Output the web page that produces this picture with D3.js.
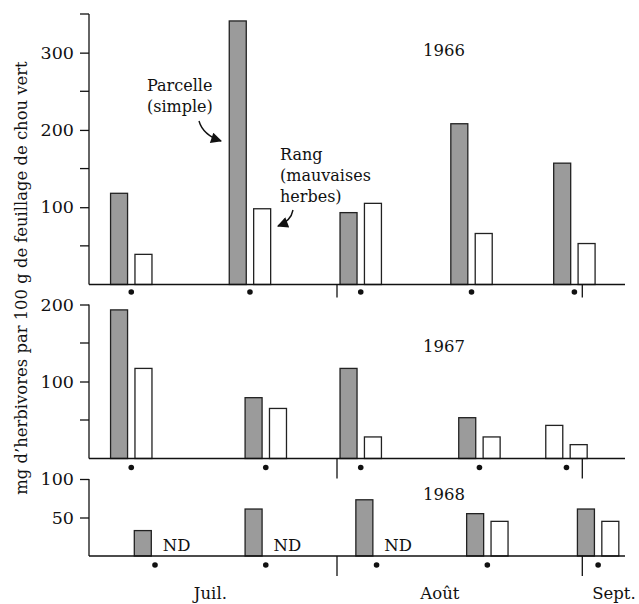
<!DOCTYPE html>
<html>
<head>
<meta charset="utf-8">
<script src="https://cdn.jsdelivr.net/npm/d3@7"></script>
<style>
  body { margin: 0; background: #fff; }
  svg text { font-family: "DejaVu Serif", serif; fill: #111; }
</style>
</head>
<body>
<svg width="639" height="604"></svg>
<script>
// sample dates (month-day) and values, mg per 100 g
var dates1966 = ["07-06", "07-21", "08-04", "08-18", "08-31"];
var parcelle1966 = [118, 341, 93, 208, 157];
var rang1966 = [39, 98, 105, 66, 53];

var dates1967 = ["07-06", "07-23", "08-04", "08-19", "08-30"];
var parcelle1967 = [193, 79, 117, 53, 43];
var rang1967 = [117, 65, 28, 28, 18];

var dates1968 = ["07-09", "07-23", "08-06", "08-20", "09-03"];
var parcelle1968 = [33, 61, 73, 55, 61];
var rang1968 = [null, null, null, 45, 45];   // null = ND

var monthDates = ["07-16", "08-14", "09-05"];
var monthNames = ["Juil.", "Août", "Sept."];
var monthBreaks = ["08-01", "09-01"];

var parse = d3.timeParse("%m-%d");

var svg = d3.select("svg");

var x = d3.scaleTime()
    .domain([parse("08-01"), parse("09-01")])
    .range([337, 582.3]);

var axLeft = 89, axRight = 625;
var barW = 17, half = 12.2;

var panels = [
  {year: "1966", dates: dates1966, p: parcelle1966, r: rang1966, base: 284.5, top: 14, max: 350,
   minor: [50, 150, 250, 350], major: [100, 200, 300], dotDy: 7.5, sepLen: 13, yearY: 56, openP: []},
  {year: "1967", dates: dates1967, p: parcelle1967, r: rang1967, base: 458.5, top: 304.5, max: 200,
   minor: [50, 150], major: [100, 200], dotDy: 9, sepLen: 20, yearY: 352, openP: [4]},
  {year: "1968", dates: dates1968, p: parcelle1968, r: rang1968, base: 556, top: 479, max: 100,
   minor: [], major: [50, 100], dotDy: 9, sepLen: 20, yearY: 500, openP: []}
];

panels.forEach(function(pn) {
  var y = d3.scaleLinear().domain([0, pn.max]).range([pn.base, pn.top]);
  var g = svg.append("g");

  // y axis: labelled ticks
  g.append("g")
      .attr("transform", "translate(" + axLeft + ",0)")
      .call(d3.axisLeft(y).tickValues(pn.major).tickSize(9).tickPadding(6).tickFormat(d3.format("d")))
      .call(function(a) {
        a.select(".domain").remove();
        a.selectAll("line").attr("stroke", "#111").attr("stroke-width", 1.3);
        a.selectAll("text").attr("font-size", 17.5).attr("font-family", "DejaVu Serif").attr("fill", "#111");
      });

  // unlabelled ticks
  g.selectAll(".minor").data(pn.minor).enter().append("line")
      .attr("x1", axLeft - 9).attr("x2", axLeft)
      .attr("y1", function(d) { return y(d); }).attr("y2", function(d) { return y(d); })
      .attr("stroke", "#111").attr("stroke-width", 1.3);

  g.append("line")
      .attr("x1", axLeft).attr("x2", axLeft)
      .attr("y1", y(pn.max)).attr("y2", pn.base)
      .attr("stroke", "#111").attr("stroke-width", 1.3);

  // bars
  var rows = pn.dates.map(function(d, i) {
    return {cx: x(parse(d)), p: pn.p[i], r: pn.r[i], open: pn.openP.indexOf(i) >= 0};
  });

  g.selectAll(".bp").data(rows).enter().append("rect")
      .attr("x", function(d) { return d.cx - half - barW / 2; })
      .attr("width", barW)
      .attr("y", function(d) { return y(d.p); })
      .attr("height", function(d) { return pn.base - y(d.p); })
      .attr("fill", function(d) { return d.open ? "#fff" : "#9b9b9b"; })
      .attr("stroke", "#222").attr("stroke-width", 1.3);

  g.selectAll(".br").data(rows.filter(function(d) { return d.r != null; })).enter().append("rect")
      .attr("x", function(d) { return d.cx + half - barW / 2; })
      .attr("width", barW)
      .attr("y", function(d) { return y(d.r); })
      .attr("height", function(d) { return pn.base - y(d.r); })
      .attr("fill", "#fff")
      .attr("stroke", "#222").attr("stroke-width", 1.3);

  g.selectAll(".nd").data(rows.filter(function(d) { return d.r == null; })).enter().append("text")
      .attr("x", function(d) { return d.cx + half - barW / 2 + 4; })
      .attr("y", pn.base - 5)
      .attr("font-size", 16.5)
      .text("ND");

  // baseline
  g.append("line")
      .attr("x1", axLeft).attr("x2", axRight)
      .attr("y1", pn.base).attr("y2", pn.base)
      .attr("stroke", "#111").attr("stroke-width", 1.3);

  // sampling dots
  g.selectAll(".dot").data(rows).enter().append("circle")
      .attr("cx", function(d) { return d.cx; })
      .attr("cy", pn.base + pn.dotDy)
      .attr("r", 2.8)
      .attr("fill", "#111");

  // month separators
  g.selectAll(".sep").data(monthBreaks).enter().append("line")
      .attr("x1", function(d) { return x(parse(d)); }).attr("x2", function(d) { return x(parse(d)); })
      .attr("y1", pn.base).attr("y2", pn.base + pn.sepLen)
      .attr("stroke", "#111").attr("stroke-width", 1.3);

  g.append("text")
      .attr("x", 444).attr("y", pn.yearY)
      .attr("text-anchor", "middle")
      .attr("font-size", 16.5)
      .text(pn.year);
});

// month names
svg.selectAll(".month").data(monthDates).enter().append("text")
    .attr("x", function(d) { return x(parse(d)); })
    .attr("y", 599)
    .attr("text-anchor", "middle")
    .attr("font-size", 16.5)
    .text(function(d, i) { return monthNames[i]; });

// y label
svg.append("text")
    .attr("transform", "translate(27,278) rotate(-90)")
    .attr("text-anchor", "middle")
    .attr("font-size", 16.4)
    .text("mg d’herbivores par 100 g de feuillage de chou vert");

// annotations
var defs = svg.append("defs");
defs.append("marker")
    .attr("id", "head")
    .attr("viewBox", "0 0 10 10")
    .attr("refX", 9).attr("refY", 5)
    .attr("markerUnits", "userSpaceOnUse")
    .attr("markerWidth", 13).attr("markerHeight", 11)
    .attr("orient", "auto")
  .append("path")
    .attr("d", "M0,0L10,5L0,10z")
    .attr("fill", "#111");

var note = svg.append("g").attr("font-size", 16);
note.append("text").attr("x", 147).attr("y", 91).text("Parcelle");
note.append("text").attr("x", 147).attr("y", 112).text("(simple)");
note.append("text").attr("x", 280).attr("y", 160).text("Rang");
note.append("text").attr("x", 280).attr("y", 181).text("(mauvaises");
note.append("text").attr("x", 280).attr("y", 202).text("herbes)");

svg.append("path")
    .attr("d", "M199,121Q203,135 221,141")
    .attr("fill", "none").attr("stroke", "#111").attr("stroke-width", 1.4)
    .attr("marker-end", "url(#head)");
svg.append("path")
    .attr("d", "M293,210Q291,221 278,226")
    .attr("fill", "none").attr("stroke", "#111").attr("stroke-width", 1.4)
    .attr("marker-end", "url(#head)");
</script>
</body>
</html>
